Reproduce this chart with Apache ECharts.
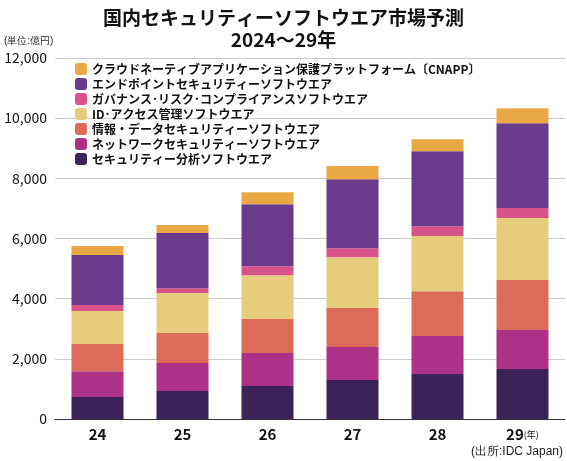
<!DOCTYPE html>
<html><head><meta charset="utf-8">
<script src="https://cdn.jsdelivr.net/npm/echarts@6/dist/echarts.min.js"></script>
<style>html,body{margin:0;padding:0;background:#fff}</style>
</head><body>
<div id="main" style="width:567px;height:461px"></div>
<script>
var years = ['24', '25', '26', '27', '28', '29'];
var seriesNames = [
  'セキュリティー分析ソフトウエア',
  'ネットワークセキュリティーソフトウエア',
  '情報・データセキュリティーソフトウエア',
  'ID･アクセス管理ソフトウエア',
  'ガバナンス･リスク･コンプライアンスソフトウエア',
  'エンドポイントセキュリティーソフトウエア',
  'クラウドネーティブアプリケーション保護プラットフォーム〔CNAPP〕'
];
var analysis = [730, 930, 1100, 1300, 1500, 1660];
var network = [860, 930, 1090, 1090, 1260, 1300];
var infoData = [900, 1000, 1130, 1300, 1490, 1660];
var idAccess = [1100, 1330, 1460, 1690, 1830, 2060];
var governance = [200, 160, 300, 300, 330, 330];
var endpoint = [1660, 1830, 2060, 2290, 2490, 2820];
var cnapp = [300, 270, 400, 440, 400, 500];
var colors = ['#3b2357', '#ad3187', '#dc6b58', '#e5cd7d', '#d9538b', '#6a3a8b', '#e9a843'];
var values = [analysis, network, infoData, idAccess, governance, endpoint, cnapp];

var myChart = echarts.init(document.getElementById('main'));
var series = values.map(function (v, i) {
  return { name: seriesNames[i], type: 'bar', stack: 'total', barWidth: 52, data: v,
    itemStyle: { color: colors[i] } };
});
option = {
  animation: false,
  textStyle: { fontFamily: 'Noto Sans CJK JP' },
  title: {
    text: '国内セキュリティーソフトウエア市場予測\n2024～29年',
    left: 'center', top: 2,
    textStyle: { fontSize: 19, fontWeight: 'bold', lineHeight: 22, color: '#111' }
  },
  graphic: [
    { type: 'text', left: 4, top: 36, style: { text: '(単位:億円)', fontSize: 10, fill: '#222' } },
    { type: 'text', right: 4, bottom: 3, style: { text: '(出所:IDC Japan)', fontSize: 12, fill: '#222' } }
  ],
  legend: {
    orient: 'vertical', left: 70, top: 58, itemWidth: 12, itemHeight: 12, itemGap: 3,
    data: seriesNames.slice().reverse(),
    textStyle: { fontSize: 12, color: '#111', fontWeight: 'bold' }
  },
  color: colors,
  grid: { left: 55, right: 2, top: 58, bottom: 42 },
  xAxis: {
    type: 'category', data: years,
    axisTick: { show: false },
    axisLine: { lineStyle: { color: '#333' } },
    axisLabel: {
      interval: 0,
      fontSize: 15, fontWeight: 'bold', color: '#111',
      formatter: function (v) { return v === '29' ? v + '{s|(年)}' : v; },
      rich: { s: { fontSize: 9, fontWeight: 'normal', color: '#111' } }
    }
  },
  yAxis: {
    type: 'value', min: 0, max: 12000, interval: 2000,
    axisLabel: { fontSize: 14, color: '#111',
      formatter: function (v) { return v.toLocaleString('en-US'); } },
    splitLine: { lineStyle: { color: '#ccc' } }
  },
  series: series
};
myChart.setOption(option);
</script>
</body></html>
